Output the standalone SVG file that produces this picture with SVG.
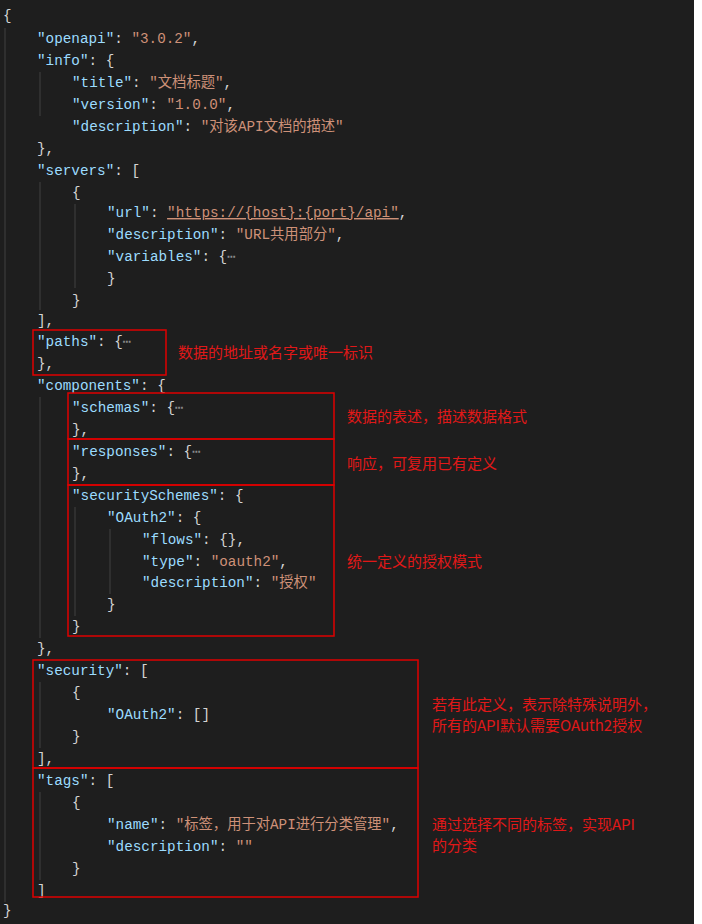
<svg xmlns="http://www.w3.org/2000/svg" width="702" height="924" viewBox="0 0 702 924">
<style>
text{font-family:"Liberation Mono","DejaVu Sans Mono","Noto Sans CJK SC",monospace;font-size:14.3px;fill:#d4d4d4;white-space:pre}
.k{fill:#9cdcfe}.s{fill:#ce9178}.e{fill:#8a8a8a}
.g{stroke:#404040;stroke-width:1}
.b{fill:none;stroke:#e00000;stroke-width:1.5}
.a{font-family:"Noto Sans CJK SC","Liberation Sans",sans-serif;font-size:15px;fill:#e01818}
</style>
<rect width="702" height="924" fill="#ffffff"/>
<rect width="694" height="924" fill="#1e1e1e"/>
<g id="guides">
<line class="g" x1="5" y1="28" x2="5" y2="902"/>
<line class="g" x1="40" y1="72" x2="40" y2="116"/>
<line class="g" x1="40" y1="182" x2="40" y2="310"/>
<line class="g" x1="75" y1="204" x2="75" y2="288"/>
<line class="g" x1="40" y1="397" x2="40" y2="638"/>
<line class="g" x1="75" y1="507" x2="75" y2="616"/>
<line class="g" x1="110" y1="529" x2="110" y2="594"/>
<line class="g" x1="40" y1="682" x2="40" y2="748"/>
<line class="g" x1="40" y1="792" x2="40" y2="880"/>
</g>
<g id="code">
<text x="3" y="20">{</text>
<text x="37" y="43"><tspan class="k">"openapi"</tspan>: <tspan class="s">"3.0.2"</tspan>,</text>
<text x="37" y="65"><tspan class="k">"info"</tspan>: {</text>
<text x="72" y="87"><tspan class="k">"title"</tspan>: <tspan class="s">"文档标题"</tspan>,</text>
<text x="72" y="109"><tspan class="k">"version"</tspan>: <tspan class="s">"1.0.0"</tspan>,</text>
<text x="72" y="131"><tspan class="k">"description"</tspan>: <tspan class="s">"对该API文档的描述"</tspan></text>
<text x="37" y="153">},</text>
<text x="37" y="175"><tspan class="k">"servers"</tspan>: [</text>
<text x="72" y="197">{</text>
<text x="107" y="217"><tspan class="k">"url"</tspan>: <tspan class="s" text-decoration="underline">"https://{host}:{port}/api"</tspan>,</text>
<text x="107" y="239"><tspan class="k">"description"</tspan>: <tspan class="s">"URL共用部分"</tspan>,</text>
<text x="107" y="261"><tspan class="k">"variables"</tspan>: {<tspan class="e">⋯</tspan></text>
<text x="107" y="283">}</text>
<text x="72" y="305">}</text>
<text x="37" y="325">],</text>
<text x="37" y="346"><tspan class="k">"paths"</tspan>: {<tspan class="e">⋯</tspan></text>
<text x="37" y="368">},</text>
<text x="37" y="390"><tspan class="k">"components"</tspan>: {</text>
<text x="72" y="412"><tspan class="k">"schemas"</tspan>: {<tspan class="e">⋯</tspan></text>
<text x="72" y="434">},</text>
<text x="72" y="456"><tspan class="k">"responses"</tspan>: {<tspan class="e">⋯</tspan></text>
<text x="72" y="478">},</text>
<text x="72" y="500"><tspan class="k">"securitySchemes"</tspan>: {</text>
<text x="107" y="522"><tspan class="k">"OAuth2"</tspan>: {</text>
<text x="142" y="544"><tspan class="k">"flows"</tspan>: {},</text>
<text x="142" y="566"><tspan class="k">"type"</tspan>: <tspan class="s">"oauth2"</tspan>,</text>
<text x="142" y="587"><tspan class="k">"description"</tspan>: <tspan class="s">"授权"</tspan></text>
<text x="107" y="609">}</text>
<text x="72" y="631">}</text>
<text x="37" y="653">},</text>
<text x="37" y="675"><tspan class="k">"security"</tspan>: [</text>
<text x="72" y="697">{</text>
<text x="107" y="719"><tspan class="k">"OAuth2"</tspan>: []</text>
<text x="72" y="741">}</text>
<text x="37" y="763">],</text>
<text x="37" y="785"><tspan class="k">"tags"</tspan>: [</text>
<text x="72" y="807">{</text>
<text x="107" y="829"><tspan class="k">"name"</tspan>: <tspan class="s">"标签，用于对API进行分类管理"</tspan>,</text>
<text x="107" y="851"><tspan class="k">"description"</tspan>: <tspan class="s">""</tspan></text>
<text x="72" y="873">}</text>
<text x="37" y="895">]</text>
<text x="3" y="915">}</text>
</g>
<g id="boxes">
<rect class="b" x="33" y="330" width="133" height="45"/>
<rect class="b" x="68" y="393" width="266" height="46"/>
<rect class="b" x="68" y="439" width="266" height="46"/>
<rect class="b" x="68" y="485" width="266" height="151"/>
<rect class="b" x="33" y="660" width="385" height="108"/>
<rect class="b" x="33" y="768" width="385" height="129"/>
</g>
<g id="notes">
<text class="a" x="178" y="358">数据的地址或名字或唯一标识</text>
<text class="a" x="347" y="422">数据的表述，描述数据格式</text>
<text class="a" x="347" y="469">响应，可复用已有定义</text>
<text class="a" x="347" y="567">统一定义的授权模式</text>
<text class="a" x="432" y="710">若有此定义，表示除特殊说明外，</text>
<text class="a" x="432" y="731">所有的API默认需要OAuth2授权</text>
<text class="a" x="432" y="830">通过选择不同的标签，实现API</text>
<text class="a" x="432" y="851">的分类</text>
</g>
</svg>
